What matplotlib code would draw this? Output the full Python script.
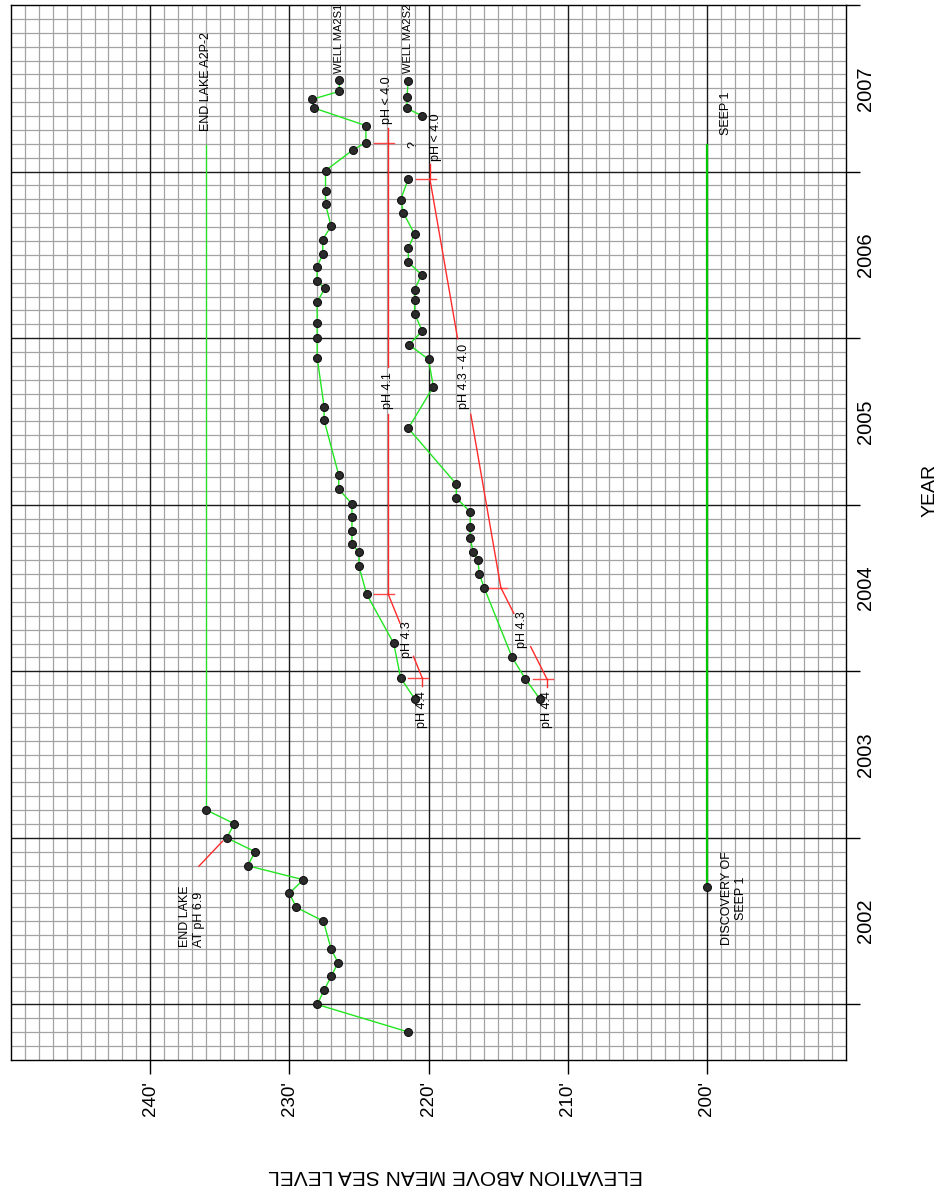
import matplotlib
matplotlib.use("Agg")
import matplotlib.pyplot as plt
import numpy as np

plt.rcParams['font.family'] = ['Liberation Sans', 'DejaVu Sans']

# --- data (elevation in ft, time in decimal years) ---
lake_year = [2001.836, 2002.000, 2002.086, 2002.168, 2002.250, 2002.334, 2002.500, 2002.583,
             2002.667, 2002.749, 2002.833, 2002.917, 2003.000, 2003.085, 2003.169]
lake_elev = [221.5, 228.0, 227.5, 227.0, 226.5, 227.0, 227.55, 229.5,
             230.0, 229.0, 233.0, 232.45, 234.5, 233.95, 236.0]
lake_end_year = 2007.16

s1_year = [2003.836, 2003.960, 2004.168, 2004.464, 2004.632, 2004.716, 2004.762, 2004.842,
           2004.924, 2005.005, 2005.094, 2005.178, 2005.507, 2005.587, 2005.883, 2006.003,
           2006.093, 2006.217, 2006.299, 2006.342, 2006.430, 2006.504, 2006.592, 2006.672,
           2006.804, 2006.882, 2007.006, 2007.132, 2007.174, 2007.276, 2007.382, 2007.434,
           2007.482, 2007.548]
s1_elev = [221.0, 222.0, 222.5, 224.45, 225.0, 225.0, 225.5, 225.5,
           225.5, 225.5, 226.45, 226.45, 227.5, 227.5, 228.0, 228.0,
           228.0, 228.0, 227.45, 228.0, 228.0, 227.6, 227.6, 227.0,
           227.4, 227.4, 227.4, 225.4, 224.5, 224.5, 228.25, 228.35,
           226.4, 226.4]

s2_year = [2003.834, 2003.956, 2004.085, 2004.502, 2004.584, 2004.668, 2004.718, 2004.800,
           2004.864, 2004.956, 2005.041, 2005.124, 2005.459, 2005.709, 2005.873, 2005.961,
           2006.043, 2006.147, 2006.229, 2006.291, 2006.381, 2006.456, 2006.542, 2006.624,
           2006.752, 2006.832, 2006.956]
s2_elev = [212.0, 213.05, 214.0, 216.0, 216.35, 216.45, 216.8, 217.0,
           217.0, 217.0, 218.0, 218.0, 221.45, 219.65, 220.0, 221.4,
           220.45, 221.0, 221.0, 221.0, 220.5, 221.45, 221.45, 221.0,
           221.8, 222.0, 221.45]
s2b_year = [2007.334, 2007.380, 2007.448, 2007.546]
s2b_elev = [220.45, 221.55, 221.55, 221.45]

seep_year = 2002.706
seep_elev = 200.0
seep_end_year = 2007.16

# pH bracket marks (elev, year)
ph_marks_elev = [220.45, 222.9, 222.9, 211.5, 214.8, 219.9]
ph_marks_year = [2003.960, 2004.464, 2007.174, 2003.956, 2004.502, 2006.956]

elev_ticks = [200, 210, 220, 230, 240]
elev_labels = ["200'", "210'", "220'", "230'", "240'"]
years = [2002, 2003, 2004, 2005, 2006, 2007]

GREEN = '#22e622'
RED = '#ff2b2b'
MINOR = '#a3a3a3'
MAJOR = '#1a1a1a'

fig = plt.figure(figsize=(9.43, 11.91), dpi=100)
ax = fig.add_axes([11 / 943, 1 - 1060 / 1191, 835 / 943, 1055 / 1191])
ax.set_xlim(250, 190)
ax.set_ylim(2001 + 8 / 12, 2008)

# graph paper grid
for e in range(191, 250):
    if e % 10:
        ax.axvline(e, color=MINOR, lw=0.9, zorder=0)
for m in np.arange(2001 + 9 / 12, 2008, 1 / 12):
    if abs(m - round(m)) > 0.01:
        ax.axhline(m, color=MINOR, lw=0.9, zorder=0)
for e in range(200, 250, 10):
    ax.axvline(e, color=MAJOR, lw=1.0, zorder=0.5)
for y in range(2002, 2008):
    ax.axhline(y, color=MAJOR, lw=1.0, zorder=0.5)

mk = dict(marker='o', ms=5.7, mfc='#2b2b2b', mec='#111111', mew=0.8)

# lake A2P-2
ax.plot(lake_elev, lake_year, color=GREEN, lw=1, zorder=3, **mk)
ax.plot([lake_elev[-1], lake_elev[-1]], [lake_year[-1], lake_end_year], color=GREEN, lw=0.9, zorder=2)
ax.text(lake_elev[-1], lake_end_year + 0.085, 'END LAKE A2P-2', rotation=90, ha='center', va='bottom', fontsize=9)
ax.plot([234.8, 236.5], [2002.98, 2002.83], color=RED, lw=1, zorder=2)
ax.text(236.97, 2002.348, 'END LAKE\nAT pH 6.9', rotation=90, ha='center', va='bottom',
        multialignment='left', fontsize=9)

# wells
ax.plot(s1_elev, s1_year, color=GREEN, lw=1, zorder=3, **mk)
ax.text(s1_elev[-1], s1_year[-1] + 0.045, 'WELL MA2S1', rotation=90, ha='center', va='bottom', fontsize=8)
ax.plot(s2_elev, s2_year, color=GREEN, lw=1, zorder=3, **mk)
ax.plot(s2b_elev, s2b_year, color=GREEN, lw=1, zorder=3, **mk)
ax.text(s2b_elev[-1], s2b_year[-1] + 0.045, 'WELL MA2S2', rotation=90, ha='center', va='bottom', fontsize=8)
ax.text(221.1, 2007.16, '?', rotation=90, ha='center', va='center', fontsize=9)

# seep 1
ax.plot([seep_elev, seep_elev], [seep_year, seep_end_year], color='#00c800', lw=1.6, zorder=2)
ax.plot(seep_elev, seep_year, zorder=3, **mk)
ax.text(198.6, seep_end_year + 0.19, 'SEEP 1', rotation=90, ha='center', va='center', fontsize=9)
ax.text(198.04, 2002.636, 'DISCOVERY OF\nSEEP 1', rotation=90, ha='center', va='center',
        multialignment='center', fontsize=9)

# pH brackets
for e, y in zip(ph_marks_elev, ph_marks_year):
    ax.plot([e + 1.0, e - 0.43], [y, y], color='#ff4848', lw=1, zorder=2)


def leader(i, j, label, yc, half):
    e0, y0 = ph_marks_elev[i], ph_marks_year[i]
    e1, y1 = ph_marks_elev[j], ph_marks_year[j]
    at = lambda yy: e0 + (yy - y0) / (y1 - y0) * (e1 - e0)
    ax.plot([e0, at(yc - half)], [y0, yc - half], color=RED, lw=1, zorder=2)
    ax.plot([at(yc + half), e1], [yc + half, y1], color=RED, lw=1, zorder=2)
    ax.text(at(yc), yc, label, rotation=90, ha='center', va='center', fontsize=9)


def stub(i, y_end, label, yc, de=0.0):
    e, y = ph_marks_elev[i], ph_marks_year[i]
    ax.plot([e, e], [y, y_end], color=RED, lw=1, zorder=2)
    ax.text(e + de, yc, label, rotation=90, ha='center', va='center', fontsize=9)


leader(0, 1, 'pH 4.3', 2004.19, 0.10)
leader(1, 2, 'pH 4.1', 2005.687, 0.14)
stub(0, 2003.913, 'pH 4.4', 2003.769)
stub(2, 2007.26, 'pH < 4.0', 2007.426, 0.1)
leader(3, 4, 'pH 4.3', 2004.248, 0.10)
leader(4, 5, 'pH 4.3 - 4.0', 2005.77, 0.227)
stub(3, 2003.908, 'pH 4.4', 2003.769)
stub(5, 2007.046, 'pH < 4.0', 2007.207, -0.45)

# axes, ticks
for s in ax.spines.values():
    s.set_color('black')
    s.set_linewidth(1.0)
ax.set_xticks(elev_ticks)
ax.set_xticklabels(elev_labels)
ax.tick_params(axis='x', length=10, width=1, direction='out', labelrotation=90, labelsize=13.5, pad=5)
ax.yaxis.tick_right()
ax.set_yticks(list(range(2002, 2009)))
ax.set_yticklabels([])
ax.set_yticks([y + 0.5 for y in years], minor=True)
ax.set_yticklabels([str(y) for y in years], minor=True)
ax.tick_params(axis='y', which='major', length=10, width=1, direction='out')
ax.tick_params(axis='y', which='minor', length=0, labelrotation=90, labelsize=14.5, pad=7)
for lbl in ax.get_yticklabels(minor=True):
    lbl.set_va('center')

fig.text(930 / 943, 1 - 490 / 1191, 'YEAR', rotation=90, ha='center', va='center', fontsize=14)
fig.text(456 / 943, 1 - 1175 / 1191, 'ELEVATION ABOVE MEAN SEA LEVEL', rotation=180,
         ha='center', va='center', fontsize=15)

fig.savefig('out.png', dpi=100)
